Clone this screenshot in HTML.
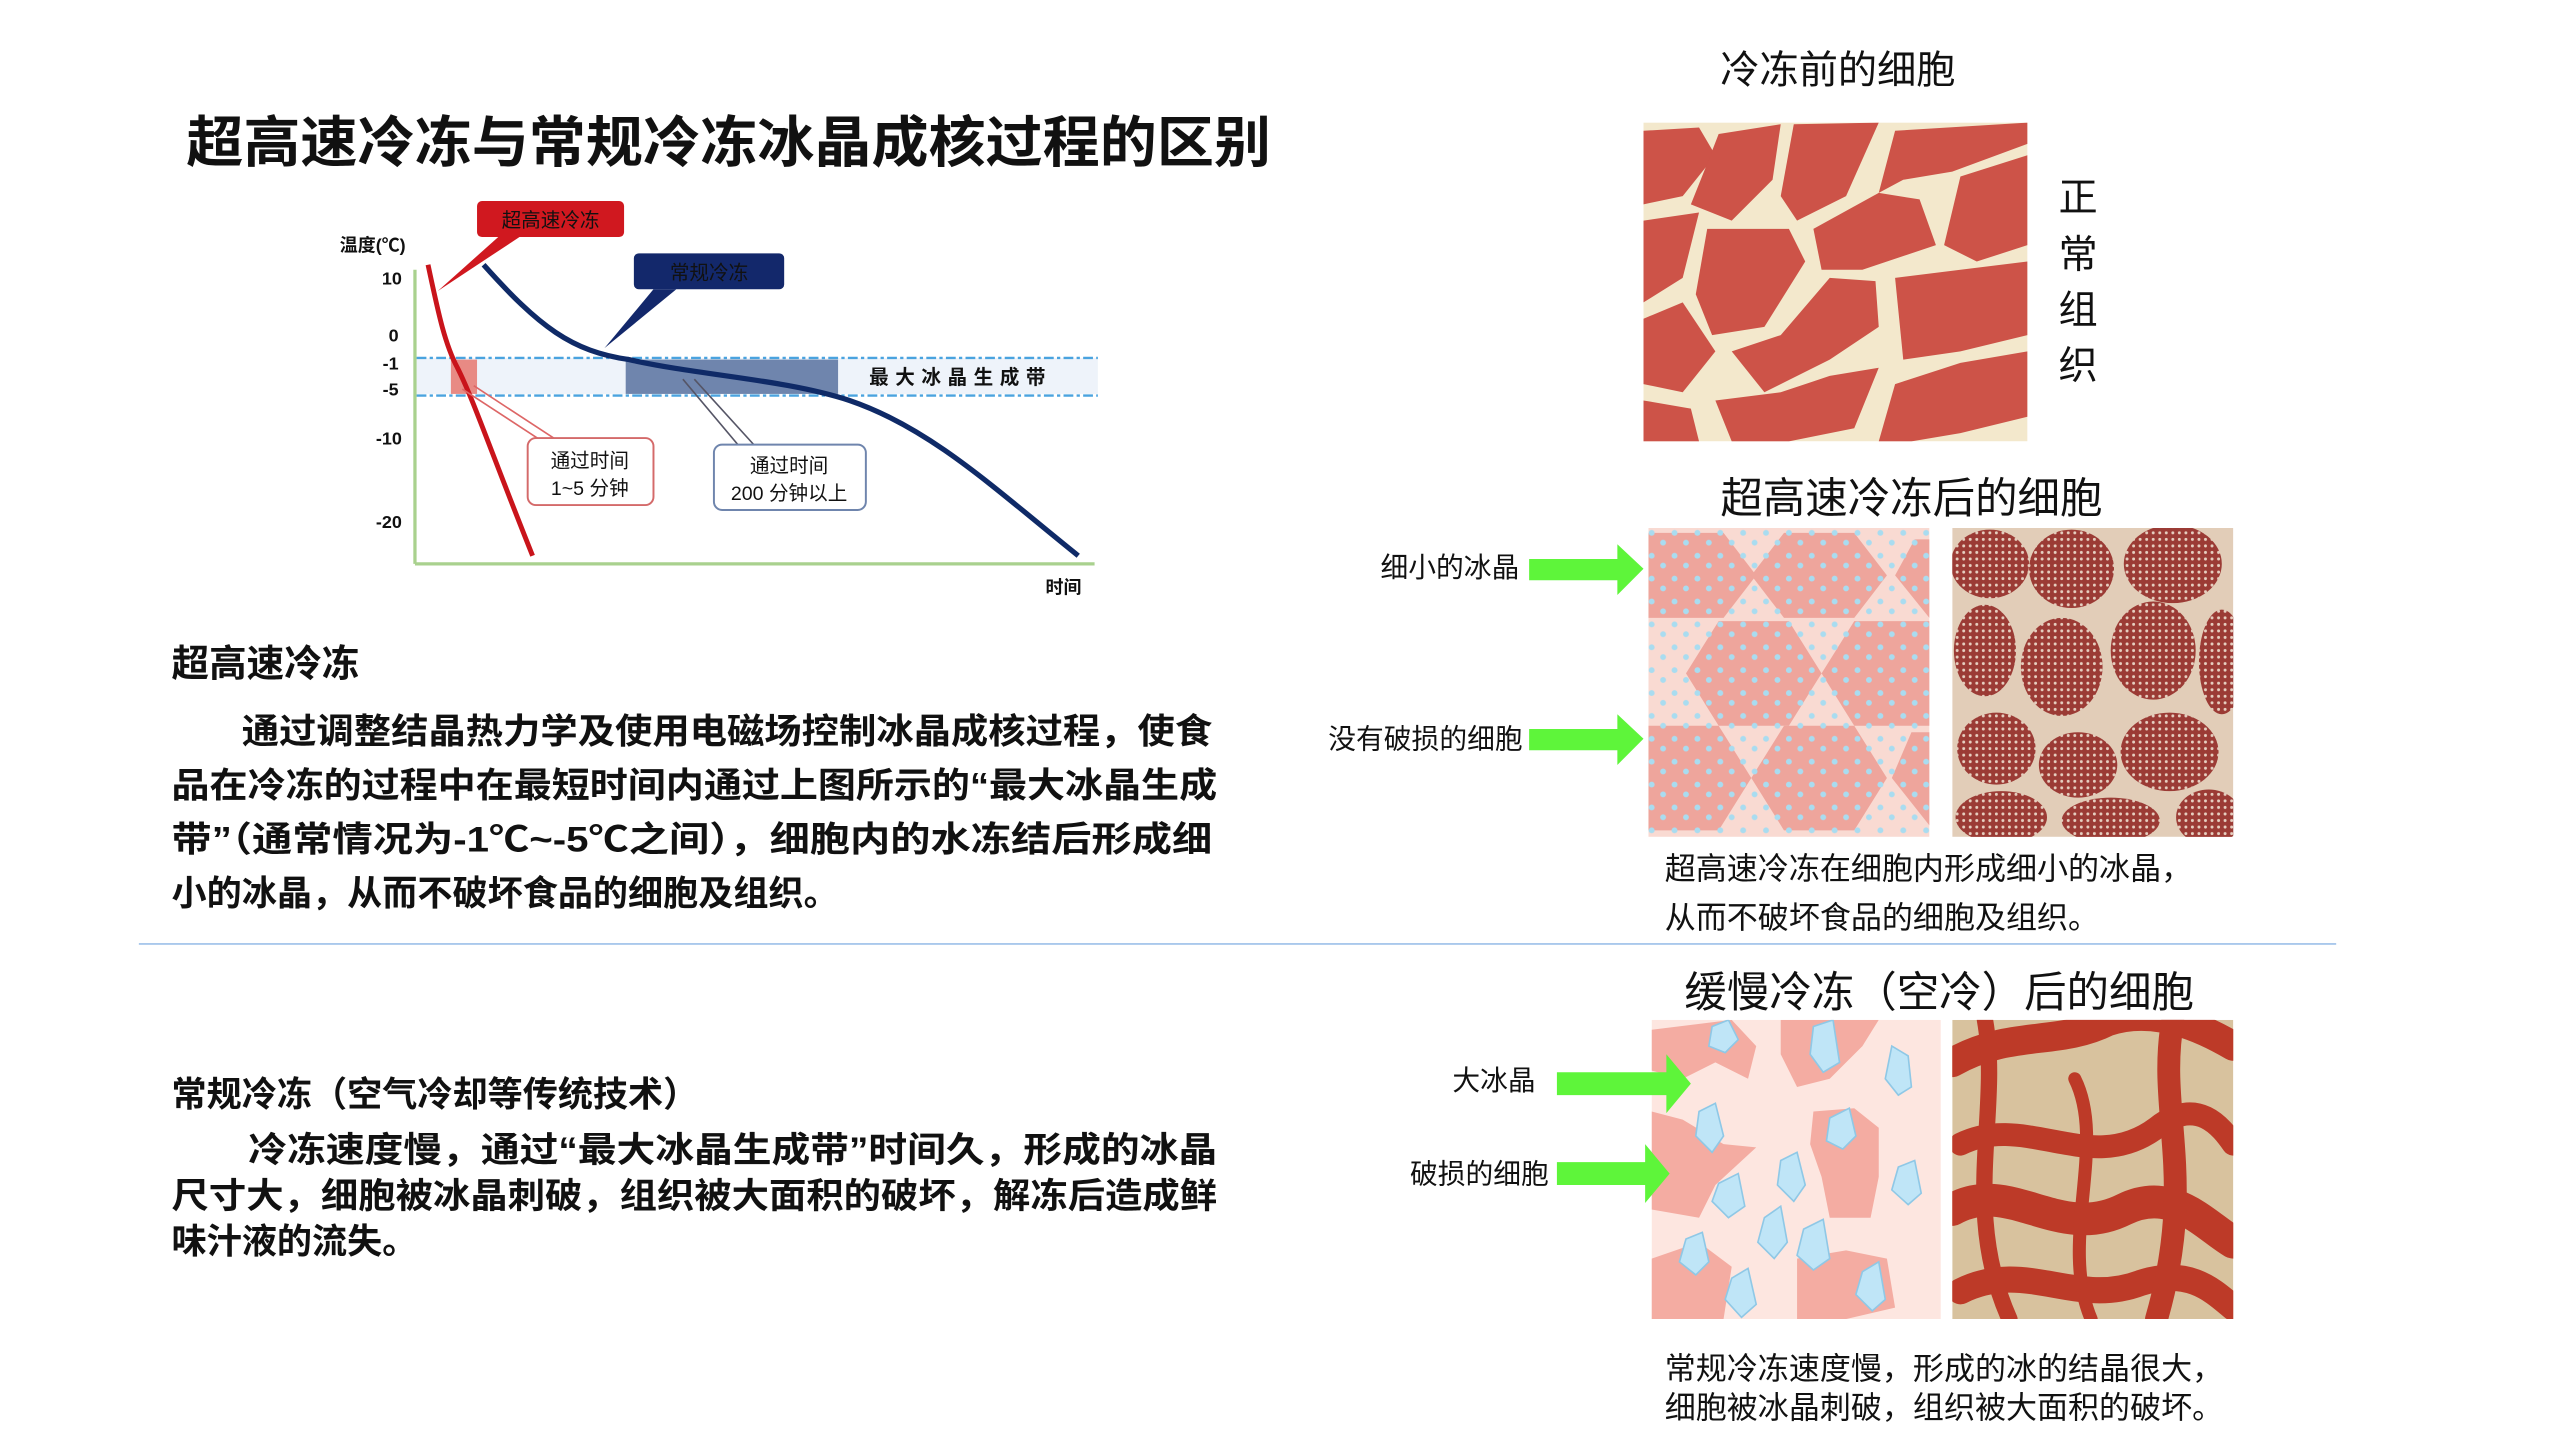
<!DOCTYPE html>
<html><head><meta charset="utf-8"><style>
html,body{margin:0;padding:0;background:#fff;width:2560px;height:1440px;overflow:hidden}
svg{display:block}
text{font-family:"Liberation Sans","Noto Sans CJK SC",sans-serif;fill:#111}
.b{font-weight:bold}
</style></head><body>
<svg width="2560" height="1440" viewBox="0 0 1567 881" preserveAspectRatio="none" xmlns="http://www.w3.org/2000/svg">
<defs>
<pattern id="dots" width="14" height="14" patternUnits="userSpaceOnUse">
<circle cx="3" cy="4" r="1.8" fill="#a9dcf0"/><circle cx="10" cy="10" r="1.8" fill="#a9dcf0"/>
</pattern>
<pattern id="net" width="4" height="4" patternUnits="userSpaceOnUse">
<rect width="4" height="4" fill="#9b3b35"/><circle cx="2" cy="2" r="0.9" fill="#e6cfc0"/>
</pattern>
<clipPath id="c1"><rect x="1006" y="75" width="235" height="195"/></clipPath>
<clipPath id="c2"><rect x="1009" y="323" width="172" height="189"/></clipPath>
<clipPath id="c3"><rect x="1195" y="323" width="172" height="189"/></clipPath>
<clipPath id="c4"><rect x="1011" y="624" width="177" height="183"/></clipPath>
<clipPath id="c5"><rect x="1195" y="624" width="172" height="183"/></clipPath>
</defs>

<text x="114" y="99" class="b" font-size="34" textLength="664" lengthAdjust="spacingAndGlyphs">超高速冷冻与常规冷冻冰晶成核过程的区别</text>

<rect x="255" y="219" width="417" height="22" fill="#eef3fa"/>
<line x1="255" y1="219" x2="672" y2="219" stroke="#4aa3df" stroke-width="1.5" stroke-dasharray="6,2,2,2"/>
<line x1="255" y1="242" x2="672" y2="242" stroke="#4aa3df" stroke-width="1.5" stroke-dasharray="6,2,2,2"/>
<rect x="276" y="220" width="16" height="21" fill="#e88a84"/>
<rect x="383" y="220" width="130" height="21" fill="#6f85ad"/>
<text x="532" y="235" class="b" font-size="12" letter-spacing="4" fill="#222">最大冰晶生成带</text>
<line x1="254" y1="165" x2="254" y2="345" stroke="#a9d18e" stroke-width="2"/>
<line x1="254" y1="345" x2="670" y2="345" stroke="#a9d18e" stroke-width="2"/>
<g font-size="11" class="b" fill="#333" text-anchor="end">
<text x="246" y="174">10</text><text x="244" y="209">0</text><text x="244" y="226">-1</text><text x="244" y="242">-5</text><text x="246" y="272">-10</text><text x="246" y="323">-20</text>
</g>
<text x="208" y="154" font-size="11" class="b">温度(℃)</text>
<text x="640" y="363" font-size="11" class="b">时间</text>
<path d="M262,162 C268,190 272,210 280,225 C290,245 300,275 326,340" fill="none" stroke="#c9141b" stroke-width="3"/>
<path d="M296,162 C330,200 350,215 385,220 C430,230 480,232 520,245 C570,262 610,300 660,340" fill="none" stroke="#0f2a67" stroke-width="3.2"/>
<rect x="292" y="123" width="90" height="22" rx="3" fill="#d0181f"/>
<path d="M305,145 L318,145 L268,178 Z" fill="#d0181f"/>
<text x="337" y="139" font-size="12" fill="#fff" text-anchor="middle">超高速冷冻</text>
<rect x="388" y="155" width="92" height="22" rx="3" fill="#13286b"/>
<path d="M400,177 L414,177 L370,213 Z" fill="#13286b"/>
<text x="434" y="171" font-size="12" fill="#fff" text-anchor="middle">常规冷冻</text>
<path d="M283,238 L335,272" stroke="#d66" stroke-width="1" fill="none"/>
<path d="M290,236 L345,272" stroke="#d66" stroke-width="1" fill="none"/>
<rect x="323" y="268" width="77" height="41" rx="5" fill="#fff" stroke="#d46a6a" stroke-width="1.2"/>
<text x="361" y="286" font-size="12" text-anchor="middle" fill="#333">通过时间</text>
<text x="361" y="303" font-size="12" text-anchor="middle" fill="#333">1~5 分钟</text>
<path d="M418,232 L455,276" stroke="#556" stroke-width="1" fill="none"/>
<path d="M425,232 L465,276" stroke="#556" stroke-width="1" fill="none"/>
<rect x="437" y="272" width="93" height="40" rx="5" fill="#fff" stroke="#6f85ad" stroke-width="1.2"/>
<text x="483" y="289" font-size="12" text-anchor="middle" fill="#333">通过时间</text>
<text x="483" y="306" font-size="12" text-anchor="middle" fill="#333">200 分钟以上</text>

<text x="105" y="414" class="b" font-size="23" fill="#333">超高速冷冻</text>
<g class="b" font-size="21.5" fill="#222">
<text x="148" y="455" textLength="594" lengthAdjust="spacingAndGlyphs">通过调整结晶热力学及使用电磁场控制冰晶成核过程，使食</text>
<text x="105" y="488" textLength="640" lengthAdjust="spacingAndGlyphs">品在冷冻的过程中在最短时间内通过上图所示的“最大冰晶生成</text>
<text x="105" y="521" textLength="637" lengthAdjust="spacingAndGlyphs">带”（通常情况为-1℃~-5℃之间），细胞内的水冻结后形成细</text>
<text x="105" y="554">小的冰晶，从而不破坏食品的细胞及组织。</text>
</g>
<line x1="85" y1="577.5" x2="1430" y2="577.5" stroke="#a9c8ec" stroke-width="1.2"/>

<text x="105" y="677" class="b" font-size="21.5" fill="#333">常规冷冻（空气冷却等传统技术）</text>
<g class="b" font-size="21.5" fill="#222">
<text x="152" y="711" textLength="593" lengthAdjust="spacingAndGlyphs">冷冻速度慢，通过“最大冰晶生成带”时间久，形成的冰晶</text>
<text x="105" y="739" textLength="640" lengthAdjust="spacingAndGlyphs">尺寸大，细胞被冰晶刺破，组织被大面积的破坏，解冻后造成鲜</text>
<text x="105" y="767">味汁液的流失。</text>
</g>

<text x="1125" y="51" font-size="24" text-anchor="middle">冷冻前的细胞</text>
<g clip-path="url(#c1)">
<rect x="1006" y="75" width="235" height="195" fill="#f3e8cc"/>
<g fill="#cd5348">
<polygon points="1006,80 1040,78 1050,95 1030,120 1006,125"/>
<polygon points="1052,82 1090,76 1085,110 1060,135 1035,125 1045,100"/>
<polygon points="1098,76 1150,75 1130,120 1100,135 1090,120"/>
<polygon points="1160,80 1241,75 1241,88 1195,105 1165,110 1150,118"/>
<polygon points="1006,135 1040,130 1030,170 1006,185"/>
<polygon points="1045,140 1095,140 1105,160 1080,200 1048,205 1038,180"/>
<polygon points="1110,140 1150,118 1175,122 1185,150 1140,165 1115,165"/>
<polygon points="1200,108 1241,95 1241,150 1210,160 1190,150"/>
<polygon points="1006,195 1030,185 1050,215 1030,240 1006,235"/>
<polygon points="1060,215 1090,205 1120,170 1148,172 1150,200 1120,220 1080,240"/>
<polygon points="1160,170 1200,165 1241,160 1241,205 1200,215 1165,220"/>
<polygon points="1006,245 1035,250 1040,270 1006,270"/>
<polygon points="1050,245 1090,240 1120,230 1150,225 1135,262 1095,270 1060,270"/>
<polygon points="1160,235 1200,222 1241,215 1241,255 1200,265 1170,270 1150,270"/>
</g>
</g>
<g font-size="24" text-anchor="middle"><text x="1272" y="129">正</text><text x="1272" y="164">常</text><text x="1272" y="198">组</text><text x="1272" y="232">织</text></g>

<text x="1170" y="314" font-size="26" text-anchor="middle">超高速冷冻后的细胞</text>
<g clip-path="url(#c2)">
<rect x="1009" y="323" width="172" height="189" fill="#f9dad2"/>
<g fill="#eea59c">
<polygon points="1009,326 1055,326 1075,352 1055,378 1009,378"/>
<polygon points="1092,326 1135,326 1155,352 1135,378 1092,378 1072,352"/>
<polygon points="1172,330 1181,330 1181,378 1160,352"/>
<polygon points="1052,380 1095,380 1115,412 1095,444 1052,444 1032,412"/>
<polygon points="1135,380 1181,380 1181,444 1135,444 1115,412"/>
<polygon points="1009,444 1052,444 1072,476 1052,508 1009,508"/>
<polygon points="1092,444 1135,444 1155,476 1135,508 1092,508 1072,476"/>
<polygon points="1170,448 1181,448 1181,505 1158,476"/>
</g>
<rect x="1009" y="323" width="172" height="189" fill="url(#dots)"/>
</g>
<g clip-path="url(#c3)">
<rect x="1195" y="323" width="172" height="189" fill="#e2cdb8"/>
<g fill="url(#net)">
<ellipse cx="1218" cy="345" rx="24" ry="21"/><ellipse cx="1268" cy="348" rx="26" ry="24"/><ellipse cx="1330" cy="345" rx="30" ry="24"/>
<ellipse cx="1215" cy="398" rx="19" ry="28"/><ellipse cx="1262" cy="408" rx="25" ry="30"/><ellipse cx="1318" cy="398" rx="26" ry="30"/><ellipse cx="1360" cy="405" rx="14" ry="32"/>
<ellipse cx="1222" cy="458" rx="24" ry="22"/><ellipse cx="1272" cy="468" rx="24" ry="20"/><ellipse cx="1328" cy="460" rx="30" ry="24"/>
<ellipse cx="1225" cy="500" rx="28" ry="16"/><ellipse cx="1292" cy="502" rx="30" ry="14"/><ellipse cx="1352" cy="500" rx="20" ry="17"/>
</g>
</g>
<g font-size="17"><text x="930" y="353" text-anchor="end">细小的冰晶</text><text x="932" y="458" text-anchor="end">没有破损的细胞</text></g>
<polygon points="936,342 990,342 990,333 1006,348 990,364 990,355 936,355" fill="#5ef53a"/>
<polygon points="936,446 990,446 990,437 1006,452 990,468 990,459 936,459" fill="#5ef53a"/>
<g font-size="19"><text x="1019" y="538">超高速冷冻在细胞内形成细小的冰晶，</text><text x="1019" y="568">从而不破坏食品的细胞及组织。</text></g>

<text x="1187" y="616" font-size="26" text-anchor="middle">缓慢冷冻（空冷）后的细胞</text>
<g clip-path="url(#c4)">
<rect x="1011" y="624" width="177" height="183" fill="#fde6e0"/>
<g fill="#f4aca2">
<polygon points="1011,630 1060,624 1075,640 1070,660 1050,650 1030,660 1011,655"/>
<polygon points="1090,624 1150,624 1140,640 1120,660 1100,665 1090,645"/>
<polygon points="1110,680 1135,678 1150,690 1150,720 1145,745 1120,745 1115,720 1108,700"/>
<polygon points="1011,680 1030,685 1055,700 1075,702 1050,725 1040,745 1011,740"/>
<polygon points="1011,770 1040,760 1060,775 1055,807 1011,807"/>
<polygon points="1100,770 1130,765 1155,770 1160,800 1130,807 1100,807"/>
</g>
<g fill="#bfe5f7" stroke="#8fc8e6" stroke-width="1">
<polygon points="1048,628 1058,624 1064,636 1056,644 1046,640"/>
<polygon points="1110,628 1122,624 1126,650 1116,656 1108,645"/>
<polygon points="1158,640 1168,646 1170,665 1162,670 1154,660"/>
<polygon points="1040,680 1050,675 1055,695 1048,705 1038,695"/>
<polygon points="1120,684 1132,678 1136,695 1128,703 1118,698"/>
<polygon points="1090,710 1100,705 1105,725 1098,735 1088,725"/>
<polygon points="1162,714 1172,710 1176,730 1168,737 1158,728"/>
<polygon points="1052,724 1064,718 1068,738 1058,745 1048,735"/>
<polygon points="1104,752 1116,746 1120,770 1110,777 1100,768"/>
<polygon points="1032,758 1042,754 1046,772 1038,780 1028,772"/>
<polygon points="1080,745 1090,738 1094,760 1086,770 1076,760"/>
<polygon points="1140,778 1150,772 1154,795 1146,802 1136,792"/>
<polygon points="1060,782 1070,776 1075,798 1066,806 1056,795"/>
</g>
</g>
<g clip-path="url(#c5)">
<rect x="1195" y="624" width="172" height="183" fill="#d8c29e"/>
<g fill="none" stroke="#bd3a28" stroke-linecap="round">
<path d="M1195,650 C1230,630 1260,640 1290,625 C1320,615 1350,630 1367,640" stroke-width="18"/>
<path d="M1200,700 C1240,680 1280,720 1320,690 C1345,670 1360,690 1367,700" stroke-width="14"/>
<path d="M1195,740 C1230,720 1260,760 1300,740 C1330,725 1350,750 1367,760" stroke-width="20"/>
<path d="M1200,790 C1240,770 1270,800 1310,785 C1340,775 1355,790 1367,800" stroke-width="16"/>
<path d="M1330,624 C1320,680 1345,720 1320,807" stroke-width="14"/>
<path d="M1215,624 C1225,680 1200,740 1230,807" stroke-width="10"/>
<path d="M1270,660 C1290,700 1260,760 1280,807" stroke-width="8"/>
</g>
</g>
<g font-size="17"><text x="940" y="667" text-anchor="end">大冰晶</text><text x="948" y="724" text-anchor="end">破损的细胞</text></g>
<polygon points="953,656 1020,656 1020,645 1035,663 1020,681 1020,670 953,670" fill="#5ef53a"/>
<polygon points="953,711 1007,711 1007,700 1022,718 1007,736 1007,725 953,725" fill="#5ef53a"/>
<g font-size="19"><text x="1019" y="844">常规冷冻速度慢，形成的冰的结晶很大，</text><text x="1019" y="868">细胞被冰晶刺破，组织被大面积的破坏。</text></g>
</svg>
</body></html>
